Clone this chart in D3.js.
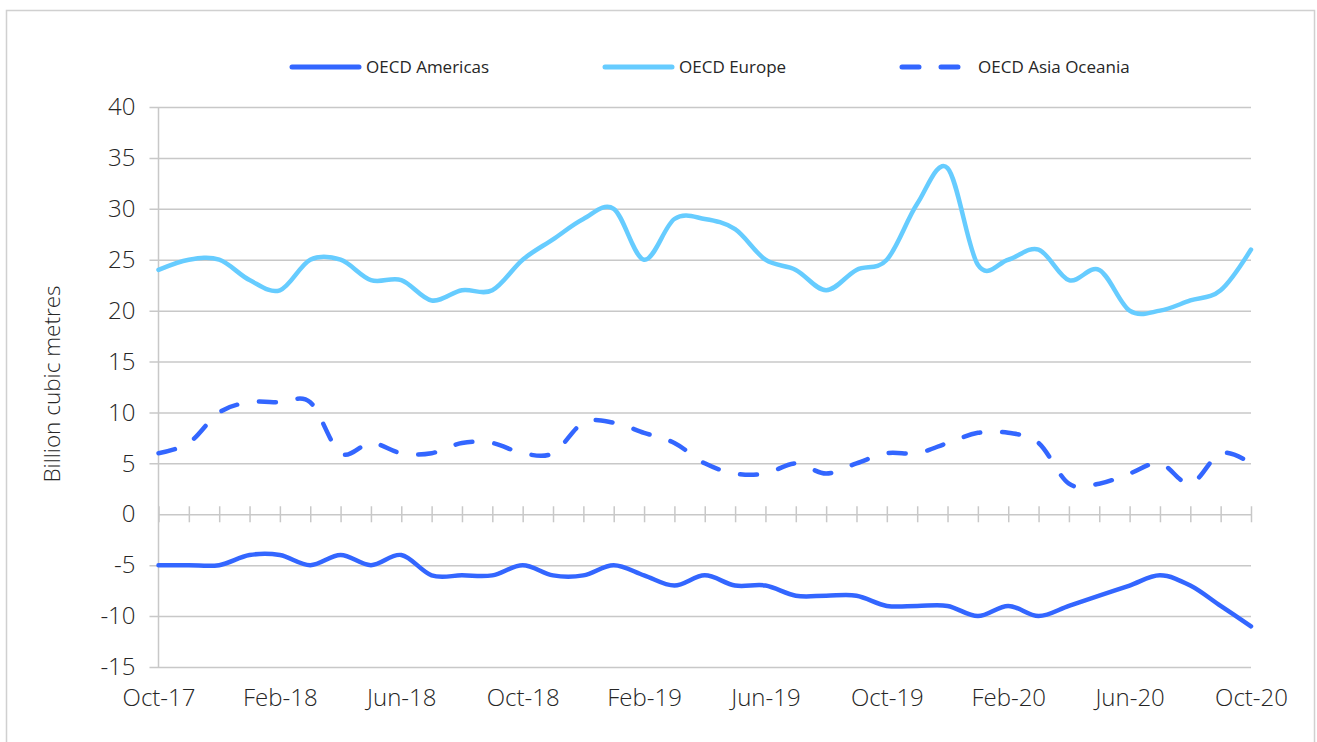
<!DOCTYPE html>
<html>
<head>
<meta charset="utf-8">
<script src="https://cdn.jsdelivr.net/npm/d3@7"></script>
<style>
    body { margin: 0; background: #fff; }
    text { font-family: "Open Sans", sans-serif; fill: #262626; }
</style>
</head>
<body>
<svg id="diagram" width="1317" height="742"></svg>
<script>
// monthly data, Oct-17 .. Oct-20
var months = ["Oct-17","Nov-17","Dec-17","Jan-18","Feb-18","Mar-18","Apr-18","May-18","Jun-18","Jul-18","Aug-18","Sep-18",
    "Oct-18","Nov-18","Dec-18","Jan-19","Feb-19","Mar-19","Apr-19","May-19","Jun-19","Jul-19","Aug-19","Sep-19",
    "Oct-19","Nov-19","Dec-19","Jan-20","Feb-20","Mar-20","Apr-20","May-20","Jun-20","Jul-20","Aug-20","Sep-20","Oct-20"];

var americas = [-5,-5,-5,-4,-4,-5,-4,-5,-4,-6,-6,-6,-5,-6,-6,-5,-6,-7,-6,-7,-7,-8,-8,-8,-9,-9,-9,-10,-9,-10,-9,-8,-7,-6,-7,-9,-11];
var europe = [24,25,25,23,22,25,25,23,23,21,22,22,25,27,29,30,25,29,29,28,25,24,22,24,25,30.5,34,24.5,25,26,23,24,20,20,21,22,26];
var asiaOceania = [6,7,10,11,11,11,6,7,6,6,7,7,6,6,9,9,8,7,5,4,4,5,4,5,6,6,7,8,8,7,3,3,4,5,3,6,5];

var xLabels = ["Oct-17","Feb-18","Jun-18","Oct-18","Feb-19","Jun-19","Oct-19","Feb-20","Jun-20","Oct-20"];
var yTicks = [-15,-10,-5,0,5,10,15,20,25,30,35,40];

var seriesList = [
    {name: "OECD Americas", values: americas, color: "#3366ff", dash: null},
    {name: "OECD Europe", values: europe, color: "#66ccff", dash: null},
    {name: "OECD Asia Oceania", values: asiaOceania, color: "#3366ff", dash: "17,22"}
];

var svg = d3.select("#diagram");

// outer frame
svg.append("rect")
    .attr("x", 6.5).attr("y", 10.5)
    .attr("width", 1308).attr("height", 760)
    .attr("fill", "none")
    .attr("stroke", "#d0d0d0")
    .attr("stroke-width", 1.5);

var xScale = d3.scalePoint().domain(months).range([158.5, 1251]);
var yScale = d3.scaleLinear().domain([-15, 40]).range([667, 107]);

var g = svg.append("g");

// gridlines + y labels (plain hyphen for negatives)
g.append("g")
    .attr("transform", "translate(158.5,0)")
    .call(d3.axisLeft(yScale).tickValues(yTicks).tickSize(9).tickPadding(14)
        .tickFormat(function (d) { return String(d); }))
    .call(function (a) {
        a.select(".domain").remove();
        a.selectAll(".tick line").attr("stroke", "#c8c8c8").attr("stroke-width", 1.5)
            .attr("x2", function (d) { return d === 0 ? -9 : 1251 - 158.5; })
            .attr("x1", -9);
        a.selectAll(".tick text").style("font-size", "24px").style("font-weight", 300)
            .attr("fill", "#1e1e1e").attr("font-family", null);
    });

// zero line with monthly cross ticks
g.append("g")
    .attr("transform", "translate(0," + yScale(0) + ")")
    .call(d3.axisBottom(xScale).tickSize(0).tickFormat(""))
    .call(function (a) {
        a.select(".domain").attr("stroke", "#c8c8c8").attr("stroke-width", 1.5);
        a.selectAll(".tick line").attr("stroke", "#c8c8c8").attr("stroke-width", 1.5)
            .attr("y1", -8).attr("y2", 8);
    });

// y axis line
g.append("line")
    .attr("x1", 158.5).attr("x2", 158.5)
    .attr("y1", yScale(40)).attr("y2", yScale(-15))
    .attr("stroke", "#c8c8c8").attr("stroke-width", 1.5);

// x labels along the bottom
g.append("g")
    .attr("transform", "translate(0," + yScale(-15) + ")")
    .call(d3.axisBottom(xScale).tickValues(xLabels).tickSize(0).tickPadding(22))
    .call(function (a) {
        a.select(".domain").remove();
        a.selectAll(".tick text").style("font-size", "24px").style("font-weight", 300)
            .attr("fill", "#1e1e1e").attr("font-family", null);
    });

// axis title
svg.append("text")
    .attr("transform", "translate(60,384) rotate(-90)")
    .attr("text-anchor", "middle")
    .style("font-size", "22.5px")
    .style("font-weight", 300)
    .text("Billion cubic metres");

// lines
var line = d3.line()
    .x(function (d, i) { return xScale(months[i]); })
    .y(function (d) { return yScale(d); })
    .curve(d3.curveCardinal.tension(0));

g.selectAll(".series")
    .data(seriesList)
    .enter().append("path")
    .attr("class", "series")
    .attr("d", function (d) { return line(d.values); })
    .attr("fill", "none")
    .attr("stroke", function (d) { return d.color; })
    .attr("stroke-width", 4.5)
    .attr("stroke-linecap", "round")
    .attr("stroke-linejoin", "round")
    .attr("stroke-dasharray", function (d) { return d.dash; });

// legend
var legendX = [292, 605, 902];
var legend = svg.selectAll(".legendItem")
    .data(seriesList)
    .enter().append("g")
    .attr("class", "legendItem")
    .attr("transform", function (d, i) { return "translate(" + legendX[i] + ",67)"; });

legend.append("line")
    .attr("x1", 0).attr("x2", function (d) { return d.dash ? 60 : 67; })
    .attr("stroke", function (d) { return d.color; })
    .attr("stroke-width", 5)
    .attr("stroke-linecap", "round")
    .attr("stroke-dasharray", function (d) { return d.dash; });

legend.append("text")
    .attr("x", function (d) { return d.dash ? 76 : 74; })
    .attr("dy", "0.35em")
    .style("font-size", "17px")
    .text(function (d) { return d.name; });
</script>
</body>
</html>
